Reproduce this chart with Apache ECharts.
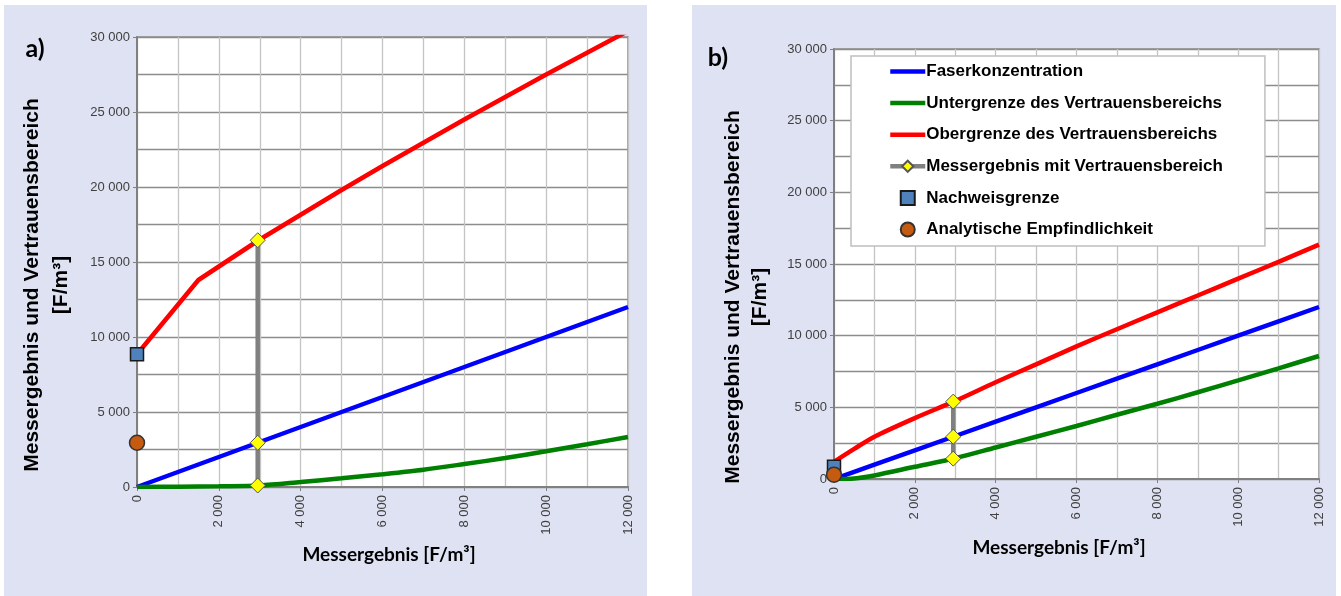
<!DOCTYPE html>
<html>
<head>
<meta charset="utf-8">
<title>Messergebnis und Vertrauensbereich</title>
<script src="https://cdn.jsdelivr.net/npm/echarts@6/dist/echarts.min.js"></script>
<style>
  html, body { margin: 0; padding: 0; background: #fff; }
  #main { width: 1341px; height: 596px; }
</style>
</head>
<body>
<div id="main"></div>
<script>
// tick labels
const xTicks = [0, 2000, 4000, 6000, 8000, 10000, 12000];
const yTicks = [0, 5000, 10000, 15000, 20000, 25000, 30000];

// panel a)
const xA = [0, 1000, 2000, 3000, 4000, 5000, 6000, 7000, 8000, 9000, 10000, 11000, 12000];
const blueA = [0, 1000, 2000, 3000, 4000, 5000, 6000, 7000, 8000, 9000, 10000, 11000, 12000];
const greenA = [0, 20, 50, 100, 330, 580, 850, 1150, 1530, 1930, 2380, 2850, 3330];
const redAx = [0, 1500, 3000, 4000, 5000, 6000, 7000, 8000, 9000, 10000, 11000, 12000];
const redA = [8850, 13800, 16500, 18150, 19800, 21400, 22950, 24500, 26000, 27500, 28950, 30400];
const measXA = 2950;
const measA = [100, 2950, 16450];
const detectA = 8850;
const sensA = 2950;

// panel b)
const xB = [0, 500, 1000, 2000, 3000, 4000, 5000, 6000, 7000, 8000, 9000, 10000, 11000, 12000];
const blueB = [0, 500, 1000, 2000, 3000, 4000, 5000, 6000, 7000, 8000, 9000, 10000, 11000, 12000];
const greenB = [0, 40, 250, 850, 1450, 2200, 2950, 3700, 4480, 5250, 6050, 6880, 7720, 8580];
const redB = [1200, 2100, 2950, 4250, 5450, 6750, 8000, 9250, 10450, 11630, 12800, 13980, 15150, 16350];
const measXB = 2950;
const measB = [1420, 2950, 5400];
const detectB = 850;
const sensB = 300;

const names = [
  'Faserkonzentration',
  'Untergrenze des Vertrauensbereichs',
  'Obergrenze des Vertrauensbereichs',
  'Messergebnis mit Vertrauensbereich',
  'Nachweisgrenze',
  'Analytische Empfindlichkeit'
];

function zip(xs, ys) {
  return xs.map((x, i) => [x, ys[i]]);
}
function fmt(v) {
  return String(v).replace(/\B(?=(\d{3})+(?!\d))/g, ' ');
}

const labelFont = { fontFamily: 'Liberation Sans, Arial, sans-serif', fontSize: 13, color: '#404040' };
const vGrid = { color: '#c4c4c4', width: 1.3 };
const hGrid = { color: '#8c8c8c', width: 1.3 };

function xAxisFor(gridIndex) {
  return {
    type: 'value', gridIndex: gridIndex, min: 0, max: 12000, interval: 2000,
    axisLine: { show: true, onZero: false, lineStyle: { color: '#808080', width: 2 } },
    axisTick: { show: true, length: 4, lineStyle: { color: '#808080' } },
    axisLabel: Object.assign({ rotate: 90, margin: 8, customValues: xTicks, formatter: fmt }, labelFont),
    splitLine: { show: true, lineStyle: vGrid },
    minorTick: { show: false, splitNumber: 2 },
    minorSplitLine: { show: true, lineStyle: vGrid }
  };
}
function yAxisFor(gridIndex) {
  return {
    type: 'value', gridIndex: gridIndex, min: 0, max: 30000, interval: 5000,
    axisLine: { show: true, lineStyle: { color: '#808080', width: 2 } },
    axisTick: { show: true, length: 4, lineStyle: { color: '#808080' } },
    axisLabel: Object.assign({ margin: 7, customValues: yTicks, formatter: fmt }, labelFont),
    splitLine: { show: true, lineStyle: hGrid },
    minorTick: { show: false, splitNumber: 2 },
    minorSplitLine: { show: true, lineStyle: hGrid }
  };
}

function seriesFor(idx, smooth, blue, green, red, meas, detect, sens) {
  const line = (name, data, color, sm) => ({
    name: name, type: 'line', xAxisIndex: idx, yAxisIndex: idx, data: data,
    symbol: 'none', smooth: sm, clip: true,
    lineStyle: { color: color, width: 4.5 }, itemStyle: { color: color }
  });
  return [
    line(names[0], blue, '#0000ff', false),
    line(names[1], green, '#008000', 0.3),
    line(names[2], red, '#ff0000', smooth),
    {
      name: names[3], type: 'line', xAxisIndex: idx, yAxisIndex: idx, data: meas,
      symbol: 'diamond', symbolSize: 15, showSymbol: true, clip: false, z: 5,
      lineStyle: { color: '#808080', width: 4.5 },
      itemStyle: { color: '#ffff00', borderColor: '#555', borderWidth: 1 }
    },
    {
      name: names[4], type: 'scatter', xAxisIndex: idx, yAxisIndex: idx, data: detect,
      symbol: 'rect', symbolSize: 13, clip: false, z: 6,
      itemStyle: { color: '#4f81bd', borderColor: '#1a1a1a', borderWidth: 1.5, opacity: 1 }
    },
    {
      name: names[5], type: 'scatter', xAxisIndex: idx, yAxisIndex: idx, data: sens,
      symbol: 'circle', symbolSize: 15, clip: false, z: 6,
      itemStyle: { color: '#c55a11', borderColor: '#333', borderWidth: 1.5, opacity: 1 }
    }
  ];
}

const titleFont = 'bold 21px "Liberation Sans", Arial, sans-serif';
const xTitleFont = 'bold 19px Lato, "Open Sans", sans-serif';
const tagFont = 'bold 25px Lato, "Open Sans", sans-serif';

function txt(text, x, y, font, rot) {
  return {
    type: 'text', x: x, y: y, rotation: rot || 0, z: 100,
    style: { text: text, font: font, fill: '#000', align: 'center', verticalAlign: 'middle' }
  };
}

const lineIcon = 'path://M0,0H35V4.5H0Z';
const squareIcon = 'path://M0,0H10V10H0Z';

const chart = echarts.init(document.getElementById('main'));
chart.setOption({
  animation: false,
  backgroundColor: '#fff',
  graphic: [
    { type: 'rect', z: -100, shape: { x: 4, y: 5, width: 643, height: 591 }, style: { fill: '#dfe2f2' } },
    { type: 'rect', z: -100, shape: { x: 692, y: 5, width: 644, height: 591 }, style: { fill: '#dfe2f2' } },
    txt('a)', 35, 49, tagFont),
    txt('b)', 718, 58, tagFont),
    txt('Messergebnis und Vertrauensbereich', 32, 285, titleFont, Math.PI / 2),
    txt('[F/m³]', 61, 285, titleFont, Math.PI / 2),
    txt('Messergebnis und Vertrauensbereich', 733, 297, titleFont, Math.PI / 2),
    txt('[F/m³]', 760, 297, titleFont, Math.PI / 2),
    txt('Messergebnis [F/m³]', 389, 555, xTitleFont),
    txt('Messergebnis [F/m³]', 1059, 548, xTitleFont)
  ],
  grid: [
    { left: 137, top: 37, width: 491, height: 450, show: true, backgroundColor: '#fff', borderColor: '#8c8c8c', borderWidth: 1.5 },
    { left: 834, top: 49, width: 485, height: 430, show: true, backgroundColor: '#fff', borderColor: '#8c8c8c', borderWidth: 1.5 }
  ],
  xAxis: [xAxisFor(0), xAxisFor(1)],
  yAxis: [yAxisFor(0), yAxisFor(1)],
  legend: {
    data: [
      { name: names[0], icon: lineIcon },
      { name: names[1], icon: lineIcon },
      { name: names[2], icon: lineIcon },
      { name: names[3] },
      { name: names[4], icon: squareIcon },
      { name: names[5], icon: 'circle' }
    ],
    orient: 'vertical',
    left: 851, top: 56,
    padding: [7, 42, 8, 37],
    itemWidth: 35, itemHeight: 14, itemGap: 14.6,
    lineStyle: { width: 4.5 },
    backgroundColor: '#fff',
    borderColor: '#bfbfbf', borderWidth: 1.5,
    selectedMode: false,
    textStyle: { fontFamily: 'Liberation Sans, Arial, sans-serif', fontWeight: 'bold', fontSize: 17, color: '#000', padding: [0, 0, 0, -4] }
  },
  series: [].concat(
    seriesFor(0, false, zip(xA, blueA), zip(xA, greenA), zip(redAx, redA),
      measA.map(v => [measXA, v]), [[0, detectA]], [[0, sensA]]),
    seriesFor(1, 0.3, zip(xB, blueB), zip(xB, greenB), zip(xB, redB),
      measB.map(v => [measXB, v]), [[0, detectB]], [[0, sensB]])
  )
});
</script>
</body>
</html>
